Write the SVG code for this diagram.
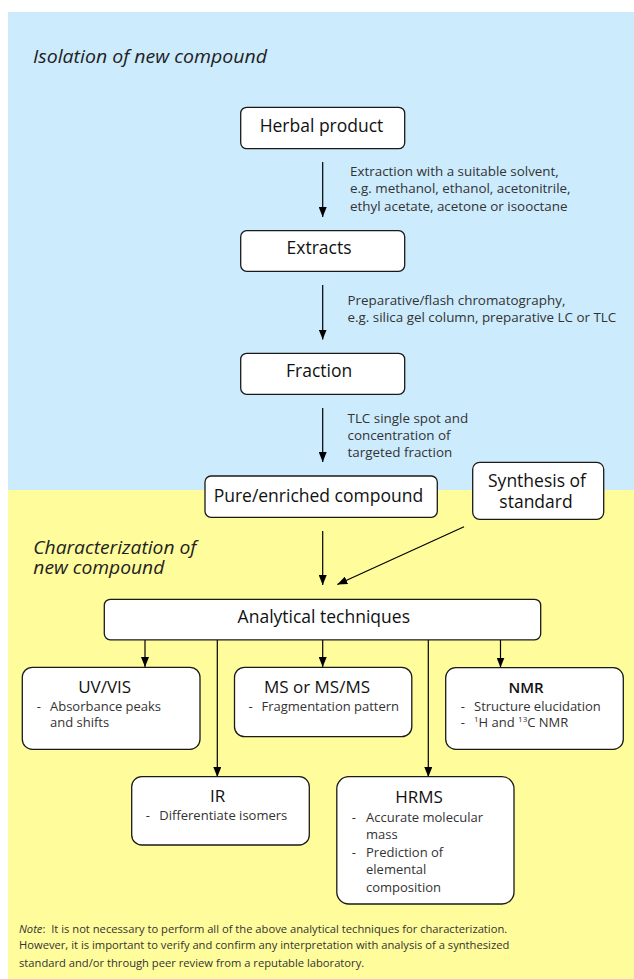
<svg xmlns="http://www.w3.org/2000/svg" width="634" height="979" viewBox="0 0 634 979">
<defs>
<marker id="ah" viewBox="0 0 10 8" refX="10" refY="4" markerWidth="10" markerHeight="8" markerUnits="userSpaceOnUse" orient="auto"><path d="M0,0 L10,4 L0,8 z" fill="#000"/></marker>
</defs>
<style>
text{font-family:"Open Sans","Noto Sans","Liberation Sans",sans-serif;}
.bg-blue{fill:#CCEBFD;}
.bg-yellow{fill:#FFFC9B;}
.box{fill:#fff;stroke:#1a1a1a;stroke-width:1.3;}
.t{font-size:17.5px;fill:#111;text-anchor:middle;}
.tt{font-size:17px;fill:#111;text-anchor:middle;}
.nmr{font-size:15px;fill:#111;text-anchor:middle;font-weight:600;}
.lab{font-size:13.4px;fill:#333;}
.sub{font-size:13px;fill:#333;}
.sup{font-size:8px;}
.sec{font-size:17.5px;font-style:italic;fill:#222;}
.note{font-size:11.2px;fill:#333;white-space:pre;}
.conn line{stroke:#000;stroke-width:1.2;marker-end:url(#ah);}
</style>
<rect class="bg-blue" x="8" y="12" width="626" height="478"/>
<rect class="bg-yellow" x="8" y="490" width="626" height="489"/>
<text class="sec" x="33" y="63" textLength="234" lengthAdjust="spacingAndGlyphs">Isolation of new compound</text>
<text class="sec"><tspan x="33.3" y="554" textLength="163" lengthAdjust="spacingAndGlyphs">Characterization of</tspan><tspan x="33.3" y="574.3" textLength="131" lengthAdjust="spacingAndGlyphs">new compound</tspan></text>

<g id="conn" class="conn">
<line x1="322.7" y1="162" x2="322.7" y2="217"/>
<line x1="322.7" y1="285" x2="322.7" y2="339.5"/>
<line x1="322.7" y1="408" x2="322.7" y2="462"/>
<line x1="322.7" y1="531" x2="322.7" y2="585"/>
<line x1="464" y1="526.7" x2="337.3" y2="584.5"/>
<line x1="145" y1="640" x2="145" y2="667"/>
<line x1="217.3" y1="640" x2="217.3" y2="777"/>
<line x1="322.7" y1="640" x2="322.7" y2="667"/>
<line x1="428.3" y1="640" x2="428.3" y2="777"/>
<line x1="500.5" y1="640" x2="500.5" y2="667.5"/>
</g>

<g id="labels">
<text class="lab" x="350" y="176">Extraction with a suitable solvent,</text>
<text class="lab" x="350" y="193.3">e.g. methanol, ethanol, acetonitrile,</text>
<text class="lab" x="350" y="210.7">ethyl acetate, acetone or isooctane</text>
<text class="lab" x="347.5" y="305">Preparative/flash chromatography,</text>
<text class="lab" x="347.5" y="321.7">e.g. silica gel column, preparative LC or TLC</text>
<text class="lab" x="347.5" y="422.7">TLC single spot and</text>
<text class="lab" x="347.5" y="440">concentration of</text>
<text class="lab" x="347.5" y="457.3">targeted fraction</text>
</g>

<g id="herbal"><rect class="box" x="240.7" y="107.3" width="164" height="41.4" rx="6"/><text class="t" x="321.5" y="132.3">Herbal product</text></g>
<g id="extracts"><rect class="box" x="240.7" y="230.7" width="164" height="40.6" rx="6"/><text class="t" x="319" y="254.3">Extracts</text></g>
<g id="fraction"><rect class="box" x="240.7" y="353.3" width="164" height="41" rx="6"/><text class="t" x="319.2" y="377.3">Fraction</text></g>
<g id="pure"><rect class="box" x="205" y="476" width="232.3" height="41.3" rx="6"/><text class="t" x="318.4" y="501.7">Pure/enriched compound</text></g>
<g id="synthesis"><rect class="box" x="472.7" y="462.3" width="131" height="57" rx="7"/><text class="t"><tspan x="537" y="487.3">Synthesis of</tspan><tspan x="536" y="507.7">standard</tspan></text></g>
<g id="analytical"><rect class="box" x="104.3" y="599.3" width="436.4" height="40.5" rx="6"/><text class="t" x="323.8" y="623.3">Analytical techniques</text></g>

<g id="uvvis"><rect class="box" x="22.3" y="667.3" width="177.7" height="82" rx="10"/>
<text class="tt" x="104.7" y="693.3">UV/VIS</text>
<text class="sub" x="36.7" y="710.7">-</text><text class="sub" x="50" y="710.7">Absorbance peaks</text>
<text class="sub" x="50" y="727.3">and shifts</text></g>

<g id="ms"><rect class="box" x="234.5" y="667.3" width="177.3" height="69.4" rx="10"/>
<text class="tt" x="317" y="693.3">MS or MS/MS</text>
<text class="sub" x="248.5" y="710.7">-</text><text class="sub" x="261.5" y="710.7">Fragmentation pattern</text></g>

<g id="nmr"><rect class="box" x="445.7" y="667.7" width="177.6" height="81.6" rx="10"/>
<text class="nmr" x="526" y="693.3">NMR</text>
<text class="sub" x="460.7" y="710.7">-</text><text class="sub" x="474" y="710.7">Structure elucidation</text>
<text class="sub" x="460.7" y="727.3">-</text><text class="sub" x="474" y="727.3"><tspan class="sup" dy="-5">1</tspan><tspan dy="5">H and </tspan><tspan class="sup" dy="-5">13</tspan><tspan dy="5">C NMR</tspan></text></g>

<g id="ir"><rect class="box" x="131.7" y="776.7" width="177.6" height="68.3" rx="10"/>
<text class="tt" x="217.7" y="801.7">IR</text>
<text class="sub" x="145.7" y="820">-</text><text class="sub" x="159.3" y="820">Differentiate isomers</text></g>

<g id="hrms"><rect class="box" x="336.8" y="776.7" width="177.2" height="127.3" rx="12"/>
<text class="tt" x="419" y="803">HRMS</text>
<text class="sub" x="351.8" y="821.5">-</text><text class="sub" x="366" y="821.5">Accurate molecular</text>
<text class="sub" x="366" y="839">mass</text>
<text class="sub" x="351.8" y="856.7">-</text><text class="sub" x="366" y="856.7">Prediction of</text>
<text class="sub" x="366" y="874">elemental</text>
<text class="sub" x="366" y="891.7">composition</text></g>

<g id="note">
<text class="note" x="19" y="932.5"><tspan font-style="italic">Note</tspan>:  It is not necessary to perform all of the above analytical techniques for characterization.</text>
<text class="note" x="19" y="949.3">However, it is important to verify and confirm any interpretation with analysis of a synthesized</text>
<text class="note" x="19" y="966.5">standard and/or through peer review from a reputable laboratory.</text>
</g>
</svg>
